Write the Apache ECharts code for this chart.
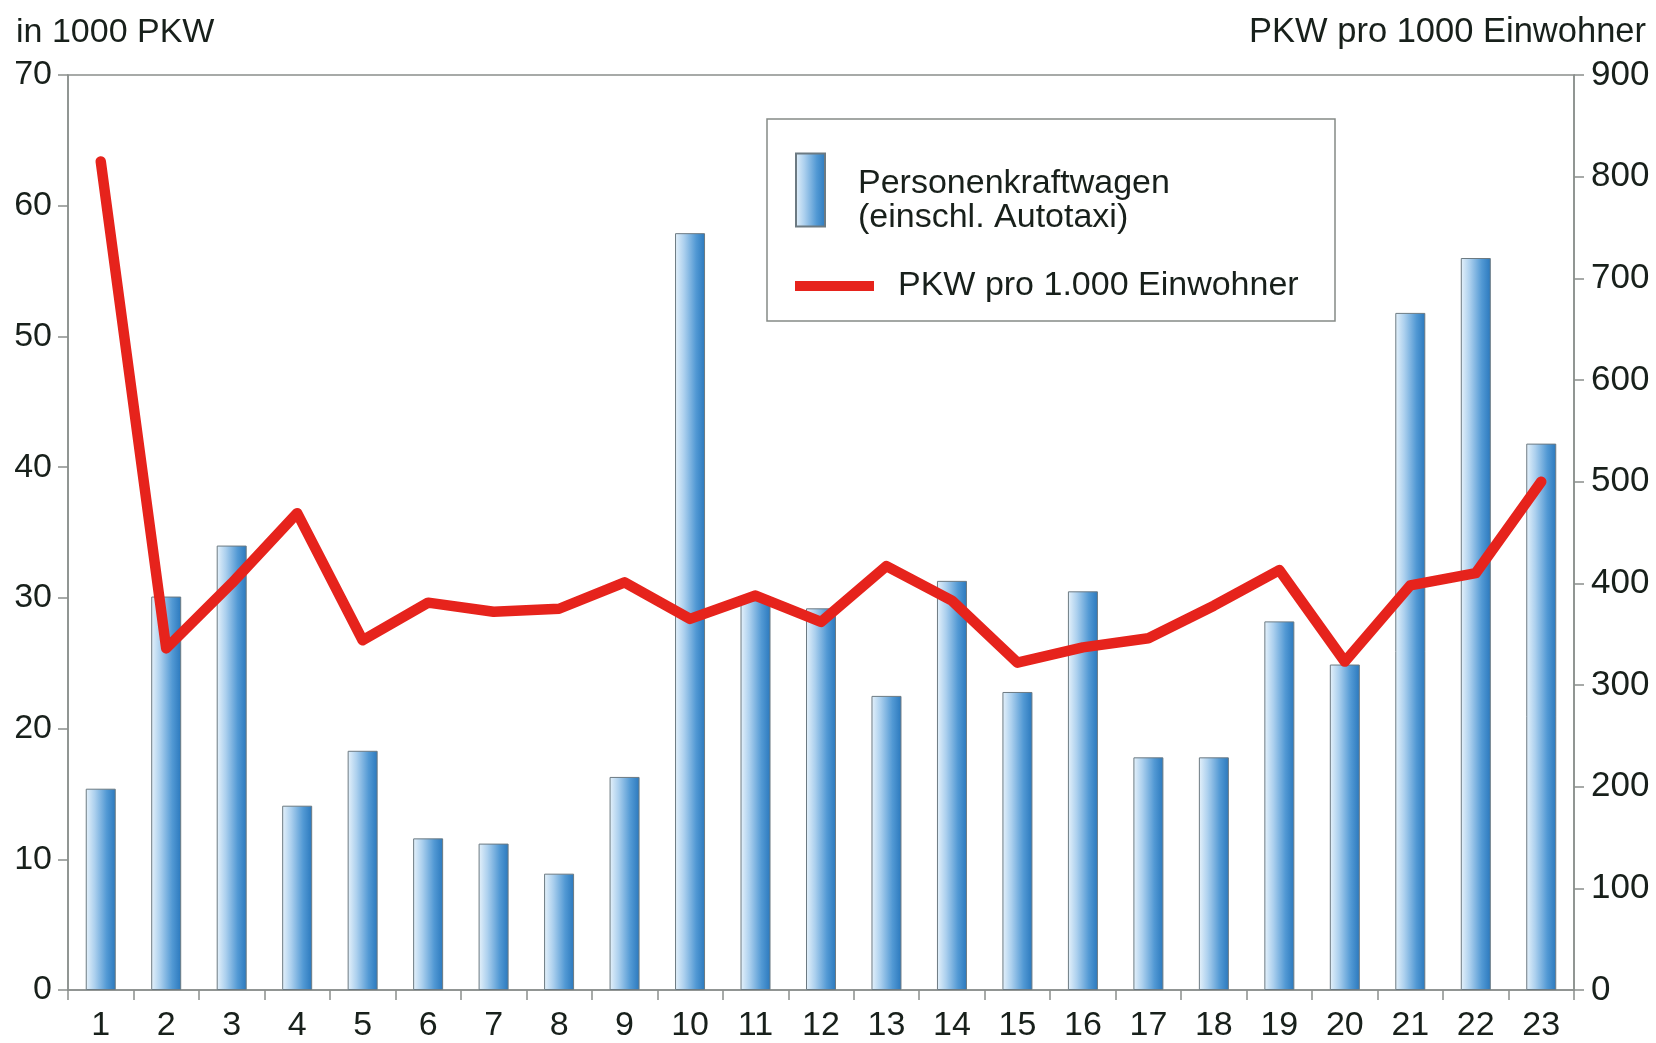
<!DOCTYPE html>
<html>
<head>
<meta charset="utf-8">
<title>PKW</title>
<script src="https://cdn.jsdelivr.net/npm/echarts@6/dist/echarts.min.js"></script>
<style>
html, body { margin: 0; padding: 0; background: #fff; }
#chart { width: 1656px; height: 1043px; }
</style>
</head>
<body>
<div id="chart"></div>
<script>
// Daten
var kategorien = ['1','2','3','4','5','6','7','8','9','10','11','12','13','14','15','16','17','18','19','20','21','22','23'];
// Personenkraftwagen in 1000
var pkwBestand = [15.4, 30.1, 34.0, 14.1, 18.3, 11.6, 11.2, 8.9, 16.3, 57.9, 29.8, 29.2, 22.5, 31.3, 22.8, 30.5, 17.8, 17.8, 28.2, 24.9, 51.8, 56.0, 41.8];
// PKW pro 1000 Einwohner
var pkwDichte = [815, 336, 400, 469, 344, 381, 372, 375, 401, 365, 388, 362, 417, 383, 322, 337, 346, 378, 413, 323, 398, 410, 500];

var nameBalken = 'Personenkraftwagen\n(einschl. Autotaxi)';
var nameLinie = 'PKW pro 1.000 Einwohner';

var schrift = "'Liberation Sans', Arial, Helvetica, sans-serif";
var textFarbe = '#18201b';
var achsFarbe = '#8a8f8c';

var myChart = echarts.init(document.getElementById('chart'));

var balkenFarbe = new echarts.graphic.LinearGradient(0, 0, 1, 0, [
    { offset: 0, color: '#e6f2fb' },
    { offset: 0.3, color: '#acd0ee' },
    { offset: 0.7, color: '#5299d4' },
    { offset: 1, color: '#2a78bd' }
]);

var option = {
    backgroundColor: '#fff',
    textStyle: { fontFamily: schrift, color: textFarbe },
    animation: false,
    title: [
        { text: 'in 1000 PKW', left: 11, top: 11,
          textStyle: { fontFamily: schrift, fontSize: 34, fontWeight: 'normal', color: textFarbe } },
        { text: 'PKW pro 1000 Einwohner', right: 5, top: 10,
          textStyle: { fontFamily: schrift, fontSize: 34.5, fontWeight: 'normal', color: textFarbe } }
    ],
    graphic: [{
        type: 'rect', z: 1,
        shape: { x: 767, y: 119, width: 568, height: 202 },
        style: { fill: '#fff', stroke: '#858a87', lineWidth: 1.5 }
    }],
    legend: [
        {
            data: [nameBalken], left: 795, top: 151, padding: 0,
            icon: 'rect', itemWidth: 29, itemHeight: 73,
            formatter: function (name) {
                var zeilen = name.split('\n');
                return '{s| }\n{a|' + zeilen[0] + '}\n{a|' + zeilen[1] + '}';
            },
            textStyle: {
                fontFamily: schrift, fontSize: 34, color: textFarbe,
                rich: {
                    s: { fontSize: 10, lineHeight: 21, padding: [0, 0, 0, 28] },
                    a: { fontFamily: schrift, fontSize: 34, lineHeight: 34, color: textFarbe, padding: [0, 0, 0, 28] }
                }
            },
            selectedMode: false
        },
        {
            data: [nameLinie], left: 795, top: 269, padding: 0,
            icon: 'rect', itemWidth: 79, itemHeight: 10,
            textStyle: { fontFamily: schrift, fontSize: 34, color: textFarbe, padding: [2, 0, 0, 19] },
            selectedMode: false
        }
    ],
    grid: {
        left: 68, right: 82, top: 75, bottom: 51,
        show: true, borderColor: achsFarbe, borderWidth: 1.5
    },
    xAxis: {
        type: 'category',
        data: kategorien,
        axisLine: { lineStyle: { color: achsFarbe, width: 1.5 } },
        axisTick: { show: true, length: 10, lineStyle: { color: achsFarbe, width: 1.5 } },
        axisLabel: { fontFamily: schrift, fontSize: 34, color: textFarbe, margin: 19 },
        splitLine: { show: false }
    },
    yAxis: [
        {
            type: 'value', min: 0, max: 70, interval: 10,
            axisLine: { show: true, lineStyle: { color: achsFarbe, width: 1.5 } },
            axisTick: { show: true, length: 10, lineStyle: { color: achsFarbe, width: 1.5 } },
            axisLabel: { fontFamily: schrift, fontSize: 34, color: textFarbe, margin: 16 },
            splitLine: { show: false }
        },
        {
            type: 'value', min: 0, max: 900, interval: 100,
            axisLine: { show: true, lineStyle: { color: achsFarbe, width: 1.5 } },
            axisTick: { show: true, length: 10, lineStyle: { color: achsFarbe, width: 1.5 } },
            axisLabel: { fontFamily: schrift, fontSize: 35, color: textFarbe, margin: 17 },
            splitLine: { show: false }
        }
    ],
    series: [
        {
            name: nameBalken,
            type: 'bar',
            data: pkwBestand,
            barWidth: 30,
            itemStyle: { color: balkenFarbe, borderColor: '#6c7a82', borderWidth: 1 },
            z: 2
        },
        {
            name: nameLinie,
            type: 'line',
            yAxisIndex: 1,
            data: pkwDichte,
            symbol: 'none',
            lineStyle: { color: '#e6231c', width: 10.5, join: 'round', cap: 'round' },
            itemStyle: { color: '#e6231c' },
            z: 3
        }
    ]
};
myChart.setOption(option);
</script>
</body>
</html>
